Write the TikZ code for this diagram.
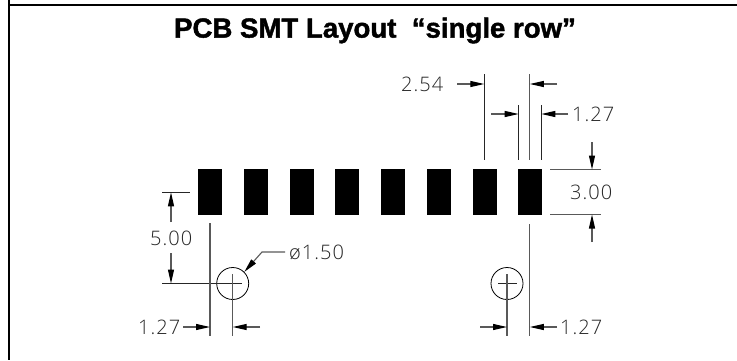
\documentclass[tikz,border=0pt]{standalone}
\usepackage{fontspec}
\setmainfont[BoldFeatures={FakeBold=1.6}]{Liberation Sans}
\newfontfamily\dimfont[LetterSpace=5]{Open Sans Light}
\usetikzlibrary{arrows.meta}
\definecolor{dimgray}{gray}{0.35}
\tikzset{
  pad/.style={fill=black,draw=none},
  extl/.style={draw=dimgray,line width=1.1pt},
  blk/.style={draw=black!85,line width=0.8pt},
  dimarrow/.style={draw=dimgray,line width=1.1pt,-{Triangle[black,length=14pt,width=6pt]}},
  dimtext/.style={font=\dimfont\fontsize{20}{20}\selectfont,text=black!85,inner sep=0pt,anchor=west},
  frameline/.style={draw=black,line width=2.2pt},
}
\begin{document}
\begin{tikzpicture}[x=1pt,y=-1pt]
\useasboundingbox (0,0) rectangle (737,360);
\draw[frameline] (9,0) -- (9,360);
\draw[frameline] (9,5) -- (737,5);
\node[font=\fontsize{27.6}{28}\selectfont\bfseries,inner sep=0pt] (title) at (375,30.5) {PCB SMT Layout \ “single row”};
\foreach \i/\x in {1/198,2/243.7,3/289.4,4/335.1,5/380.8,6/426.5,7/472.3,8/518}
  \node[pad,minimum width=24pt,minimum height=46pt,inner sep=0pt,anchor=north west] (p\i) at (\x,169) {};
% extension lines top
\coordinate (a1) at (484.3,74); \coordinate (a2) at (484.3,160);
\coordinate (b1) at (529.8,74); \coordinate (b2) at (529.8,160);
\coordinate (c1) at (518.7,105); \coordinate (c2) at (518.7,160);
\coordinate (d1) at (541.3,105); \coordinate (d2) at (541.3,160);
\draw[blk] (a1)--(a2) (c1)--(c2) (d1)--(d2);
\draw[extl] (b1)--(b2);
\coordinate (e1) at (457,84); \coordinate (e2) at (484.3,84);
\coordinate (f1) at (557,84); \coordinate (f2) at (529.8,84);
\coordinate (g1) at (491,114); \coordinate (g2) at (518.7,114);
\coordinate (h1) at (568,114); \coordinate (h2) at (541.3,114);
\draw[dimarrow] (e1)--(e2);
\draw[dimarrow] (f1)--(f2);
\draw[dimarrow] (g1)--(g2);
\draw[dimarrow] (h1)--(h2);
\node[dimtext] (t254) at (401,84) {2.54};
\node[dimtext] (t127a) at (572,114) {1.27};
% 3.00
\coordinate (i1) at (550,169.5); \coordinate (i2) at (601,169.5);
\coordinate (j1) at (550,214.5); \coordinate (j2) at (601,214.5);
\draw[extl] (i1)--(i2) (j1)--(j2);
\coordinate (k1) at (592,142); \coordinate (k2) at (592,169.5);
\coordinate (l1) at (592,242); \coordinate (l2) at (592,214.5);
\draw[dimarrow] (k1)--(k2);
\draw[dimarrow] (l1)--(l2);
\node[dimtext] (t300) at (570,192) {3.00};
% right hole
\node[circle,draw=black,line width=0.8pt,minimum size=32pt,inner sep=0pt] (hr) at (507,283.5) {};
\coordinate (hr1) at (498,283.5); \coordinate (hr2) at (517,283.5);
\draw[blk] (hr1)--(hr2);
\coordinate (hr3) at (507,274); \coordinate (hr4) at (507,336);
\draw[extl] (hr3)--(hr4);
\coordinate (m1) at (529.8,224); \coordinate (m2) at (529.8,336);
\draw[extl] (m1)--(m2);
\coordinate (n1) at (480,327); \coordinate (n2) at (507,327);
\coordinate (o1) at (557,327); \coordinate (o2) at (529.8,327);
\draw[dimarrow] (n1)--(n2);
\draw[dimarrow] (o1)--(o2);
\node[dimtext] (t127b) at (560,327) {1.27};
% left hole
\node[circle,draw=black,line width=0.8pt,minimum size=32pt,inner sep=0pt] (hl) at (232.7,283.5) {};
\coordinate (q1) at (162,283.5); \coordinate (q2) at (242,283.5);
\draw[blk] (q1)--(q2);
\coordinate (q3) at (162,192.3); \coordinate (q4) at (190,192.3);
\draw[blk] (q3)--(q4);
\coordinate (r1) at (210,223); \coordinate (r2) at (210,336);
\coordinate (r3) at (232.7,274); \coordinate (r4) at (232.7,336);
\draw[extl] (r1)--(r2) (r3)--(r4);
\coordinate (s1) at (171,222); \coordinate (s2) at (171,192.3);
\coordinate (s3) at (171,253); \coordinate (s4) at (171,283.5);
\draw[dimarrow] (s1)--(s2);
\draw[dimarrow] (s3)--(s4);
\node[dimtext] (t500) at (150,238) {5.00};
\coordinate (u1) at (183,327); \coordinate (u2) at (210,327);
\coordinate (v1) at (260,327); \coordinate (v2) at (232.7,327);
\draw[dimarrow] (u1)--(u2);
\draw[dimarrow] (v1)--(v2);
\node[dimtext] (t127c) at (138,327) {1.27};
\node[dimtext] (tphi) at (289,252) {ø1.50};
\coordinate (w1) at (285,252); \coordinate (w2) at (262,252);
\draw[dimarrow] (w1)--(w2)--(hl.45);
\end{tikzpicture}
\end{document}
